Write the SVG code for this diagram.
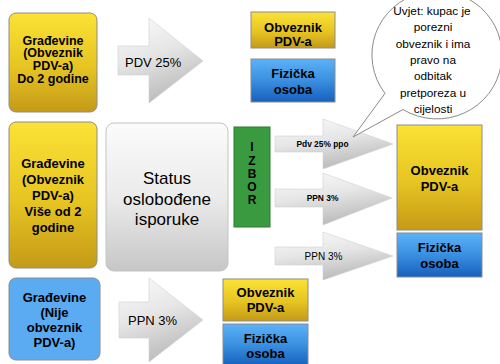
<svg xmlns="http://www.w3.org/2000/svg" width="500" height="364" viewBox="0 0 500 364">
  <defs>
    <linearGradient id="gYellow" x1="0" y1="0" x2="0" y2="1">
      <stop offset="0" stop-color="#fbe235"/>
      <stop offset="0.55" stop-color="#e6c422"/>
      <stop offset="1" stop-color="#c49a18"/>
    </linearGradient>
    <linearGradient id="gBlue" x1="0" y1="0" x2="0" y2="1">
      <stop offset="0" stop-color="#5cb2f8"/>
      <stop offset="0.5" stop-color="#3a8fe0"/>
      <stop offset="1" stop-color="#1660bd"/>
    </linearGradient>
    <linearGradient id="gGray" x1="0" y1="0" x2="0" y2="1">
      <stop offset="0" stop-color="#fbfbfb"/>
      <stop offset="0.5" stop-color="#ebebeb"/>
      <stop offset="1" stop-color="#c6c6c6"/>
    </linearGradient>
    <linearGradient id="gArrow" x1="0" y1="0" x2="0.35" y2="1">
      <stop offset="0" stop-color="#fbfbfb"/>
      <stop offset="0.5" stop-color="#e6e6e6"/>
      <stop offset="1" stop-color="#bdbdbd"/>
    </linearGradient>
    <style>
      .box { stroke: #8c8c8c; stroke-width: 1; }
      .yel { fill: url(#gYellow); }
      .blu { fill: url(#gBlue); }
      .arrow { fill: url(#gArrow); stroke: #d2d2d2; stroke-width: 0.6; }
      .b { font-family: "Liberation Sans", Arial, sans-serif; font-weight: bold; font-size: 13px; fill: #000; text-anchor: middle; }
      .r { font-family: "Liberation Sans", Arial, sans-serif; font-size: 13px; fill: #000; }
      .sm { font-size: 12.5px; }
      .letter { font-size: 12px; }
      .big { font-size: 17px; text-anchor: middle; }
      .tiny { font-size: 8.4px; }
      .lbl10 { font-size: 10px; text-anchor: middle; }
      .note { font-size: 11.8px; text-anchor: middle; }
    </style>
  </defs>

  <!-- source categories -->
  <g id="gradevine-do-2">
    <rect class="box yel" x="9" y="13" width="88" height="99" rx="7"/>
    <text class="b sm" x="53" y="44.5">Građevine</text>
    <text class="b sm" x="53" y="57.2">(Obveznik</text>
    <text class="b sm" x="53" y="70">PDV-a)</text>
    <text class="b sm" x="53" y="82.7">Do 2 godine</text>
  </g>

  <g id="gradevine-vise-od-2">
    <rect class="box yel" x="9" y="122" width="88" height="146" rx="7"/>
    <text class="b" x="53" y="167.5">Građevine</text>
    <text class="b" x="53" y="184">(Obveznik</text>
    <text class="b" x="53" y="200">PDV-a)</text>
    <text class="b" x="53" y="215.5">Više od 2</text>
    <text class="b" x="53" y="231.5">godine</text>
  </g>

  <g id="gradevine-nije-obveznik">
    <rect class="box" fill="#5aabf2" x="9" y="278" width="91" height="82" rx="7"/>
    <text class="b" x="54.5" y="301.5">Građevine</text>
    <text class="b" x="54.5" y="316.5">(Nije</text>
    <text class="b" x="54.5" y="331.5">obveznik</text>
    <text class="b" x="54.5" y="346.5">PDV-a)</text>
  </g>

  <g id="status">
    <rect x="106" y="123" width="122" height="148" rx="8" fill="url(#gGray)" stroke="#c4c4c4" stroke-width="1"/>
    <text class="r big" x="167" y="184">Status</text>
    <text class="r big" x="167" y="204.5">oslobođene</text>
    <text class="r big" x="167" y="225">isporuke</text>
  </g>

  <g id="izbor">
    <rect x="234" y="127" width="36" height="100" fill="#3a9a3f" stroke="#2e7a31" stroke-width="1"/>
    <text class="b letter" x="252" y="151">I</text>
    <text class="b letter" x="252" y="164.5">Z</text>
    <text class="b letter" x="252" y="177.5">B</text>
    <text class="b letter" x="252" y="190.5">O</text>
    <text class="b letter" x="252" y="203.5">R</text>
  </g>

  <!-- connectors: block arrows -->
  <g id="connectors">
    <path class="arrow" d="M118,46 H149 V18 L203,61 L149,103 V75 H118 Z"/>
    <text class="r" x="125" y="66.5">PDV 25%</text>

    <path class="arrow" d="M119,302 H149 V278 L203,320 L149,362 V338 H119 Z"/>
    <text class="r" x="128" y="325">PPN 3%</text>

    <path class="arrow" d="M275,136 H323 V119 L393,144 L323,169 V152 H275 Z"/>
    <text class="b tiny" x="322.5" y="147">Pdv 25% ppo</text>

    <path class="arrow" d="M275,189 H323 V173 L392,198 L323,225 V207 H275 Z"/>
    <text class="b tiny" x="322.5" y="201">PPN 3%</text>

    <path class="arrow" d="M275,247 H323 V232 L393,256 L323,280 V265 H275 Z"/>
    <text class="r lbl10" x="323.5" y="259.5">PPN 3%</text>
  </g>

  <!-- target categories -->
  <g id="obveznik-top">
    <rect class="box yel" x="251" y="12" width="84" height="36"/>
    <text class="b" x="293" y="31.5">Obveznik</text>
    <text class="b" x="293" y="46">PDV-a</text>
  </g>
  <g id="fizicka-top">
    <rect class="box blu" x="251" y="59" width="84" height="43"/>
    <text class="b" x="293" y="77.5">Fizička</text>
    <text class="b" x="293" y="93.5">osoba</text>
  </g>

  <g id="obveznik-right">
    <rect class="box yel" x="397" y="125" width="85" height="105"/>
    <text class="b" x="439.5" y="174.5">Obveznik</text>
    <text class="b" x="439.5" y="190.5">PDV-a</text>
  </g>
  <g id="fizicka-right">
    <rect class="box blu" x="397" y="233" width="85" height="44"/>
    <text class="b" x="439.5" y="251.5">Fizička</text>
    <text class="b" x="439.5" y="267.5">osoba</text>
  </g>

  <g id="obveznik-bottom">
    <rect class="box yel" x="223" y="279" width="85" height="42"/>
    <text class="b" x="265.5" y="296.5">Obveznik</text>
    <text class="b" x="265.5" y="312">PDV-a</text>
  </g>
  <g id="fizicka-bottom">
    <rect class="box blu" x="223" y="324" width="85" height="42"/>
    <text class="b" x="265.5" y="343">Fizička</text>
    <text class="b" x="265.5" y="357.5">osoba</text>
  </g>

  <!-- callout -->
  <g id="uvjet">
    <path d="M385,93.4 L353,137 L403,109.5 A65,64 0 1 0 385,93.4 Z" fill="#ffffff" stroke="#8a8a8a" stroke-width="1"/>
    <text class="r note" x="432" y="14.5">Uvjet: kupac je</text>
    <text class="r note" x="433" y="31">porezni</text>
    <text class="r note" x="433" y="47.5">obveznik i ima</text>
    <text class="r note" x="433" y="64">pravo na</text>
    <text class="r note" x="433" y="80">odbitak</text>
    <text class="r note" x="433" y="96.5">pretporeza u</text>
    <text class="r note" x="433" y="112.5">cijelosti</text>
  </g>
</svg>
